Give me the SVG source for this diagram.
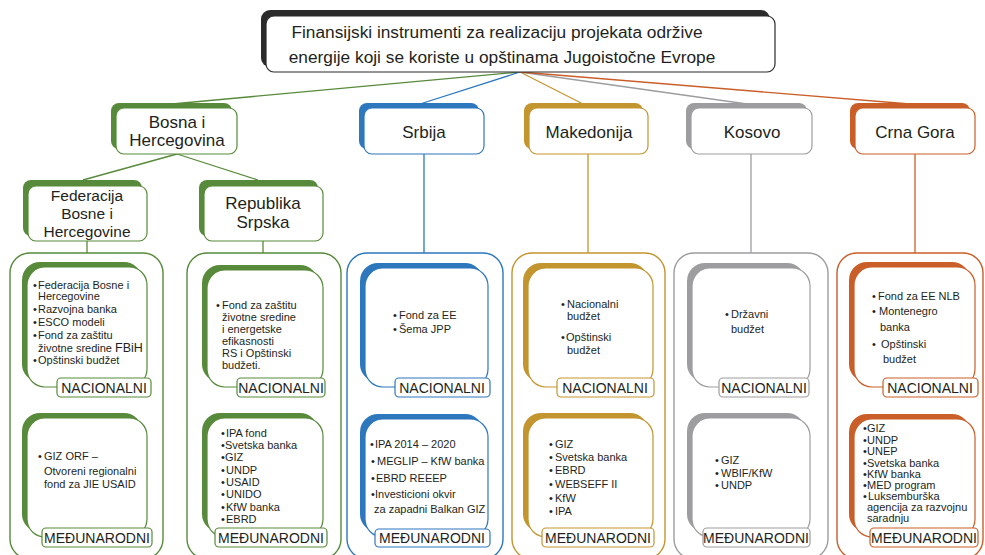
<svg xmlns="http://www.w3.org/2000/svg" width="985" height="555" viewBox="0 0 985 555">
<style>
text{font-family:"Liberation Sans",Arial,sans-serif;fill:#231f20}
.n{font-size:17px;text-anchor:middle}
.n2{font-size:15.5px;text-anchor:middle}
.ttl{font-size:17.3px;text-anchor:middle}
.b{font-size:11px}
.lab{font-size:14px;text-anchor:middle}
.w{fill:#fff;stroke-width:1.2}
.o{fill:none;stroke-width:1.4}
.c{fill:none;stroke-width:1.3}
.gr .s{fill:#578a3a}.gr .w,.gr .o,.gr .lb{stroke:#578a3a}
.bl .s{fill:#2d77bd}.bl .w,.bl .o,.bl .lb{stroke:#2d77bd}
.go .s{fill:#c3952f}.go .w,.go .o,.go .lb{stroke:#c3952f}
.gy .s{fill:#9d9da0}.gy .w,.gy .o,.gy .lb{stroke:#9d9da0}
.or .s{fill:#c95e29}.or .w,.or .o,.or .lb{stroke:#c95e29}
.lb{fill:#fff;stroke-width:1.2}
</style>
<g id="connectors">
<line class="c" x1="520" y1="72" x2="172" y2="104" stroke="#578a3a"/>
<line class="c" x1="520" y1="72" x2="420" y2="104" stroke="#2d77bd"/>
<line class="c" x1="520" y1="72" x2="583" y2="104" stroke="#c3952f"/>
<line class="c" x1="520" y1="72" x2="747" y2="104" stroke="#9d9da0"/>
<line class="c" x1="520" y1="72" x2="910" y2="104" stroke="#c95e29"/>
<line class="c" x1="177" y1="154" x2="83" y2="180" stroke="#578a3a"/>
<line class="c" x1="177" y1="154" x2="258" y2="180" stroke="#578a3a"/>
<line class="c" x1="87" y1="241" x2="87" y2="253" stroke="#578a3a"/>
<line class="c" x1="263" y1="241" x2="263" y2="253" stroke="#578a3a"/>
<line class="c" x1="424" y1="154" x2="424" y2="253" stroke="#2d77bd"/>
<line class="c" x1="588" y1="154" x2="588" y2="253" stroke="#c3952f"/>
<line class="c" x1="751" y1="154" x2="751" y2="253" stroke="#9d9da0"/>
<line class="c" x1="915" y1="154" x2="915" y2="253" stroke="#c95e29"/>
</g>

<g id="title">
<rect x="261" y="10" width="509" height="57" rx="9" fill="#2b2b2b"/>
<rect x="266" y="16" width="509" height="56" rx="8" fill="#fff" stroke="#2b2b2b" stroke-width="1.2"/>
<text class="ttl" x="497" y="38">Finansijski instrumenti za realizaciju projekata održive</text>
<text class="ttl" x="502" y="63">energije koji se koriste u opštinama Jugoistočne  Evrope</text>
</g>

<g id="bih" class="gr">
<rect class="s" x="111" y="103" width="121" height="46" rx="8"/>
<rect class="w" x="116" y="108" width="121" height="46" rx="8"/>
<text class="n" x="177" y="128">Bosna i</text>
<text class="n" x="177" y="146">Hercegovina</text>
</g>

<g id="fbih" class="gr">
<rect class="s" x="23" y="180" width="119" height="56" rx="8"/>
<rect class="w" x="28" y="186" width="119" height="55" rx="8"/>
<text class="n2" x="87" y="201">Federacija</text>
<text class="n2" x="87" y="219">Bosne i</text>
<text class="n2" x="87" y="237">Hercegovine</text>
</g>

<g id="rs" class="gr">
<rect class="s" x="199" y="180" width="119" height="56" rx="8"/>
<rect class="w" x="204" y="186" width="119" height="55" rx="8"/>
<text class="n" x="263" y="209">Republika</text>
<text class="n" x="263" y="228">Srpska</text>
</g>

<g id="srbija" class="bl">
<rect class="s" x="359" y="103" width="120" height="46" rx="8"/>
<rect class="w" x="364" y="108" width="120" height="46" rx="8"/>
<text class="n" x="424" y="138">Srbija</text>
</g>

<g id="makedonija" class="go">
<rect class="s" x="524" y="103" width="119" height="46" rx="8"/>
<rect class="w" x="529" y="108" width="119" height="46" rx="8"/>
<text class="n" x="589" y="138">Makedonija</text>
</g>

<g id="kosovo" class="gy">
<rect class="s" x="686" y="103" width="121" height="46" rx="8"/>
<rect class="w" x="691" y="108" width="121" height="46" rx="8"/>
<text class="n" x="752" y="138">Kosovo</text>
</g>

<g id="crnagora" class="or">
<rect class="s" x="850" y="103" width="120" height="46" rx="8"/>
<rect class="w" x="855" y="108" width="120" height="46" rx="8"/>
<text class="n" x="915" y="138">Crna Gora</text>
</g>

<!-- Federacija column -->
<g id="fbih-group" class="gr">
<rect class="o" x="10" y="253" width="153" height="306" rx="20"/>
</g>
<g id="fbih-nac" class="gr">
<rect class="s" x="22" y="262" width="120" height="120" rx="18"/>
<rect class="w" x="27" y="267" width="120" height="120" rx="18"/>
<text class="b" x="33" y="289">•<tspan x="38">Federacija Bosne i</tspan></text>
<text class="b" x="38" y="300">Hercegovine</text>
<text class="b" x="33" y="313">•<tspan x="38">Razvojna banka</tspan></text>
<text class="b" x="33" y="326">•<tspan x="38">ESCO modeli</tspan></text>
<text class="b" x="33" y="339">•<tspan x="38">Fond za zaštitu</tspan></text>
<text class="b" x="38" y="352">životne sredine <tspan font-size="12.5">FBiH</tspan></text>
<text class="b" x="33" y="364">•<tspan x="38">Opštinski budžet</tspan></text>
<rect class="lb" x="57" y="378" width="94" height="19" rx="4"/>
<text class="lab" x="104" y="393">NACIONALNI</text>
</g>
<g id="fbih-med" class="gr">
<rect class="s" x="22" y="413" width="120" height="119" rx="18"/>
<rect class="w" x="27" y="418" width="120" height="119" rx="18"/>
<text class="b" x="38" y="460">•<tspan x="44">GIZ ORF  –</tspan></text>
<text class="b" x="44" y="475">Otvoreni regionalni</text>
<text class="b" x="44" y="488">fond za JIE USAID</text>
<rect class="lb" x="42" y="528" width="110" height="19" rx="4"/>
<text class="lab" x="97" y="543">MEĐUNARODNI</text>
</g>

<!-- Republika Srpska column -->
<g id="rs-group" class="gr">
<rect class="o" x="187" y="253" width="154" height="306" rx="20"/>
</g>
<g id="rs-nac" class="gr">
<rect class="s" x="202" y="265" width="116" height="117" rx="18"/>
<rect class="w" x="207" y="270" width="116" height="117" rx="18"/>
<text class="b" x="216" y="309">•<tspan x="222">Fond za zaštitu</tspan></text>
<text class="b" x="222" y="321">životne sredine</text>
<text class="b" x="222" y="333">i energetske</text>
<text class="b" x="222" y="345">efikasnosti</text>
<text class="b" x="222" y="357">RS i Opštinski</text>
<text class="b" x="222" y="369">budžeti.</text>
<rect class="lb" x="237" y="378" width="88" height="19" rx="4"/>
<text class="lab" x="281" y="393">NACIONALNI</text>
</g>
<g id="rs-med" class="gr">
<rect class="s" x="202" y="413" width="116" height="119" rx="18"/>
<rect class="w" x="207" y="418" width="116" height="119" rx="18"/>
<text class="b" x="221" y="437">•<tspan x="226">IPA fond</tspan></text>
<text class="b" x="221" y="449">•<tspan x="225">Svetska banka</tspan></text>
<text class="b" x="221" y="461">•<tspan x="225">GIZ</tspan></text>
<text class="b" x="221" y="474">•<tspan x="226">UNDP</tspan></text>
<text class="b" x="221" y="486">•<tspan x="226">USAID</tspan></text>
<text class="b" x="221" y="498">•<tspan x="226">UNIDO</tspan></text>
<text class="b" x="221" y="511">•<tspan x="226">KfW banka</tspan></text>
<text class="b" x="221" y="523">•<tspan x="226">EBRD</tspan></text>
<rect class="lb" x="215" y="528" width="112" height="19" rx="4"/>
<text class="lab" x="271" y="543">MEĐUNARODNI</text>
</g>

<!-- Srbija column -->
<g id="srb-group" class="bl">
<rect class="o" x="347" y="253" width="156" height="306" rx="20"/>
</g>
<g id="srb-nac" class="bl">
<rect class="s" x="360" y="263" width="123" height="119" rx="18"/>
<rect class="w" x="365" y="268" width="123" height="119" rx="18"/>
<text class="b" x="393" y="319">•<tspan x="399">Fond za EE</tspan></text>
<text class="b" x="393" y="333">•<tspan x="399">Šema JPP</tspan></text>
<rect class="lb" x="395" y="378" width="95" height="19" rx="4"/>
<text class="lab" x="442" y="393">NACIONALNI</text>
</g>
<g id="srb-med" class="bl">
<rect class="s" x="360" y="414" width="123" height="118" rx="18"/>
<rect class="w" x="365" y="419" width="123" height="118" rx="18"/>
<text class="b" x="370" y="448">•<tspan x="375">IPA 2014 – 2020</tspan></text>
<text class="b" x="371" y="465">•<tspan x="377">MEGLIP – KfW  banka</tspan></text>
<text class="b" x="371" y="482">•<tspan x="376">EBRD REEEP</tspan></text>
<text class="b" x="371" y="498">•<tspan x="375">Investicioni okvir</tspan></text>
<text class="b" x="374" y="513">za zapadni Balkan  GIZ</text>
<rect class="lb" x="375" y="529" width="115" height="18" rx="4"/>
<text class="lab" x="432" y="543">MEĐUNARODNI</text>
</g>

<!-- Makedonija column -->
<g id="mk-group" class="go">
<rect class="o" x="512" y="253" width="153" height="306" rx="20"/>
</g>
<g id="mk-nac" class="go">
<rect class="s" x="523" y="263" width="125" height="119" rx="18"/>
<rect class="w" x="528" y="268" width="125" height="119" rx="18"/>
<text class="b" x="561" y="308">•<tspan x="567">Nacionalni</tspan></text>
<text class="b" x="567" y="320">budžet</text>
<text class="b" x="561" y="341">•<tspan x="566">Opštinski</tspan></text>
<text class="b" x="567" y="354">budžet</text>
<rect class="lb" x="557" y="378" width="97" height="19" rx="4"/>
<text class="lab" x="605" y="393">NACIONALNI</text>
</g>
<g id="mk-med" class="go">
<rect class="s" x="523" y="413" width="125" height="119" rx="18"/>
<rect class="w" x="528" y="418" width="125" height="119" rx="18"/>
<text class="b" x="549" y="448">•<tspan x="555">GIZ</tspan></text>
<text class="b" x="549" y="461">•<tspan x="555">Svetska banka</tspan></text>
<text class="b" x="549" y="474">•<tspan x="555">EBRD</tspan></text>
<text class="b" x="549" y="488">•<tspan x="555">WEBSEFF II</tspan></text>
<text class="b" x="549" y="502">•<tspan x="555">KfW</tspan></text>
<text class="b" x="549" y="515">•<tspan x="555">IPA</tspan></text>
<rect class="lb" x="542" y="528" width="112" height="19" rx="4"/>
<text class="lab" x="598" y="543">MEĐUNARODNI</text>
</g>

<!-- Kosovo column -->
<g id="ks-group" class="gy">
<rect class="o" x="674" y="253" width="154" height="306" rx="20"/>
</g>
<g id="ks-nac" class="gy">
<rect class="s" x="687" y="263" width="118" height="119" rx="18"/>
<rect class="w" x="692" y="268" width="118" height="119" rx="18"/>
<text class="b" x="725" y="318">•<tspan x="731">Državni</tspan></text>
<text class="b" x="731" y="333">budžet</text>
<rect class="lb" x="719" y="378" width="90" height="19" rx="4"/>
<text class="lab" x="764" y="393">NACIONALNI</text>
</g>
<g id="ks-med" class="gy">
<rect class="s" x="687" y="413" width="118" height="119" rx="18"/>
<rect class="w" x="692" y="418" width="118" height="119" rx="18"/>
<text class="b" x="715" y="464">•<tspan x="721">GIZ</tspan></text>
<text class="b" x="715" y="477">•<tspan x="721">WBIF/KfW</tspan></text>
<text class="b" x="715" y="489">•<tspan x="721">UNDP</tspan></text>
<rect class="lb" x="703" y="528" width="107" height="19" rx="4"/>
<text class="lab" x="756" y="543">MEĐUNARODNI</text>
</g>

<!-- Crna Gora column -->
<g id="cg-group" class="or">
<rect class="o" x="837" y="253" width="146" height="306" rx="20"/>
</g>
<g id="cg-nac" class="or">
<rect class="s" x="849" y="262" width="121" height="120" rx="18"/>
<rect class="w" x="854" y="267" width="121" height="120" rx="18"/>
<text class="b" x="872" y="300">•<tspan x="878">Fond za EE NLB</tspan></text>
<text class="b" x="872" y="315">•<tspan x="879">Montenegro</tspan></text>
<text class="b" x="880" y="331">banka</text>
<text class="b" x="872" y="348">•<tspan x="881">Opštinski</tspan></text>
<text class="b" x="883" y="363">budžet</text>
<rect class="lb" x="883" y="378" width="95" height="19" rx="4"/>
<text class="lab" x="930" y="393">NACIONALNI</text>
</g>
<g id="cg-med" class="or">
<rect class="s" x="849" y="414" width="121" height="118" rx="18"/>
<rect class="w" x="854" y="419" width="121" height="118" rx="18"/>
<text class="b" x="863" y="432">•<tspan x="867">GIZ</tspan></text>
<text class="b" x="863" y="444">•<tspan x="867">UNDP</tspan></text>
<text class="b" x="863" y="455">•<tspan x="867">UNEP</tspan></text>
<text class="b" x="863" y="467">•<tspan x="867">Svetska banka</tspan></text>
<text class="b" x="863" y="478">•<tspan x="867">KfW banka</tspan></text>
<text class="b" x="863" y="489">•<tspan x="867">MED program</tspan></text>
<text class="b" x="863" y="500">•<tspan x="868">Luksemburška</tspan></text>
<text class="b" x="867" y="511">agencija za razvojnu</text>
<text class="b" x="867" y="522">saradnju</text>
<rect class="lb" x="870" y="528" width="108" height="19" rx="4"/>
<text class="lab" x="924" y="543">MEĐUNARODNI</text>
</g>
</svg>
